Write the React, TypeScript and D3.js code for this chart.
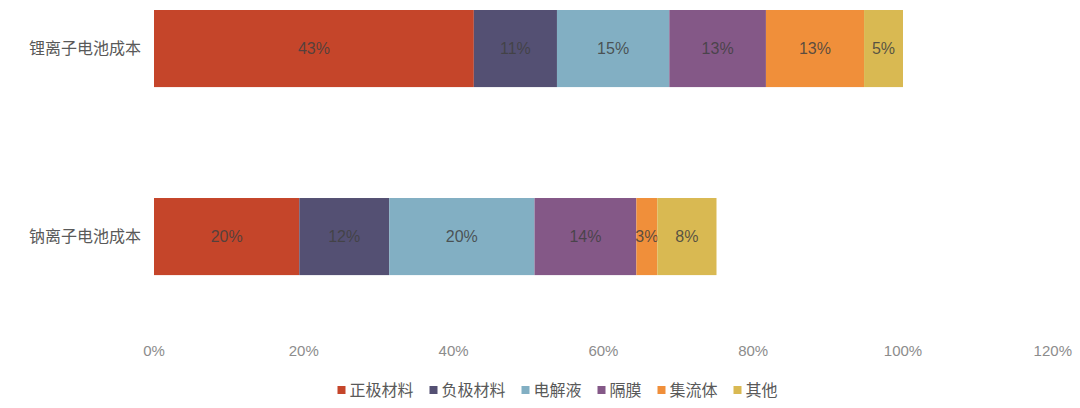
import React from "react";
import * as d3 from "d3";

const categories = ["锂离子电池成本", "钠离子电池成本"];
const seriesNames = ["正极材料", "负极材料", "电解液", "隔膜", "集流体", "其他"];
const colors = ["#C5452A", "#545073", "#82AFC3", "#845887", "#F08F3A", "#D9B952"];
// values (percent)
const lithiumValues = [42.7, 11.1, 15.0, 12.9, 13.1, 5.2];
const sodiumValues = [19.4, 12.0, 19.4, 13.6, 2.8, 7.9];
// printed data labels
const lithiumLabels = ["43%", "11%", "15%", "13%", "13%", "5%"];
const sodiumLabels = ["20%", "12%", "20%", "14%", "3%", "8%"];
const xTicks = [0, 20, 40, 60, 80, 100, 120];

const W = 1080;
const H = 408;
const FONT = "'Liberation Sans', Arial, 'Noto Sans CJK SC', sans-serif";

export default function App() {
  const x = d3.scaleLinear().domain([0, 120]).range([154, 1052.8]);
  const y = d3.scaleBand().domain(categories).range([10, 275.1]).paddingInner(0.59).paddingOuter(0);
  const valuesByCat = [lithiumValues, sodiumValues];
  const labelsByCat = [lithiumLabels, sodiumLabels];

  const stackData = categories.map((c, ci) => {
    const row: any = { cat: c };
    seriesNames.forEach((s, si) => (row[s] = valuesByCat[ci][si]));
    return row;
  });
  const stacked = d3.stack().keys(seriesNames)(stackData);

  // legend layout
  const legendY = 390;
  const legendItems: { x: number; name: string; color: string }[] = [];
  let lx = 337.5;
  seriesNames.forEach((n, i) => {
    legendItems.push({ x: lx, name: n, color: colors[i] });
    lx += 12 + n.length * 16 + 16;
  });

  return (
    <svg width={W} height={H} style={{ position: "absolute", left: 0, top: 0, background: "#fff" }} fontFamily={FONT}>
      <rect width={W} height={H} fill="#fff" />
      {stacked.map((layer, si) => (
        <g key={si}>
          {layer.map((d, ci) => {
            const x0 = x(d[0]);
            const x1 = x(d[1]);
            const yy = y(categories[ci])!;
            const bw = y.bandwidth();
            return (
              <g key={ci}>
                <rect x={x0} y={yy} width={x1 - x0} height={bw} fill={colors[si]} />
                <text
                  x={(x0 + x1) / 2}
                  y={yy + bw / 2}
                  dy="0.35em"
                  textAnchor="middle"
                  fontSize={16}
                  fill="#404040"
                  fillOpacity={0.85}
                >
                  {labelsByCat[ci][si]}
                </text>
              </g>
            );
          })}
        </g>
      ))}
      {categories.map((c) => (
        <text
          key={c}
          x={141}
          y={y(c)! + y.bandwidth() / 2}
          dy="0.35em"
          textAnchor="end"
          fontSize={16}
          fill="#595959"
        >
          {c}
        </text>
      ))}
      {xTicks.map((t) => (
        <text key={t} x={x(t)} y={351} dy="0.35em" textAnchor="middle" fontSize={15} fill="#8c8c8c">
          {t + "%"}
        </text>
      ))}
      {legendItems.map((it) => (
        <g key={it.name}>
          <rect x={it.x} y={legendY - 4} width={8} height={8} fill={it.color} />
          <text x={it.x + 12} y={legendY} dy="0.35em" fontSize={16} fill="#595959">
            {it.name}
          </text>
        </g>
      ))}
    </svg>
  );
}
